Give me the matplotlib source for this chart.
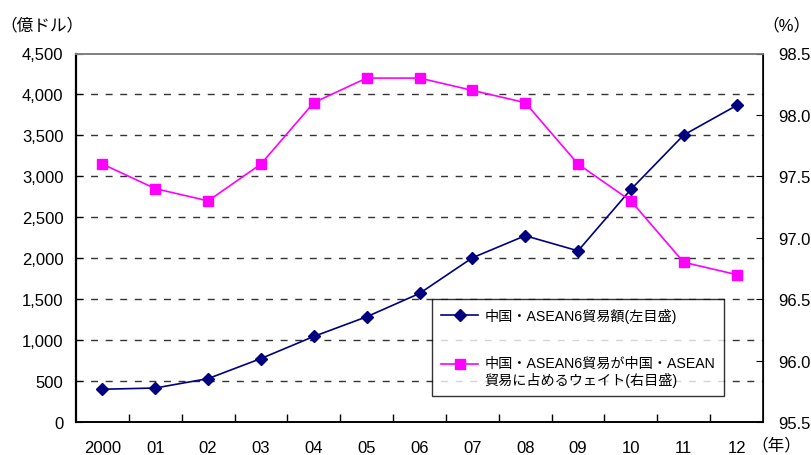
import matplotlib
matplotlib.use('Agg')
import matplotlib.pyplot as plt
import numpy as np
from matplotlib.legend_handler import HandlerLine2D
from matplotlib.ticker import MultipleLocator, FuncFormatter

# China-ASEAN6 trade (100 mn USD) and its share of China-ASEAN trade (%)
years = ['2000', '01', '02', '03', '04', '05', '06', '07', '08', '09', '10', '11', '12']
trade = [400, 415, 530, 775, 1045, 1285, 1570, 2005, 2275, 2090, 2840, 3505, 3865]
share = [97.6, 97.4, 97.3, 97.6, 98.1, 98.3, 98.3, 98.2, 98.1, 97.6, 97.3, 96.8, 96.7]

label_trade = '中国・ASEAN6貿易額(左目盛)'
label_share = '中国・ASEAN6貿易が中国・ASEAN\n貿易に占めるウェイト(右目盛)'

plt.rcParams['font.family'] = ['Liberation Sans', 'Noto Sans CJK JP']


class TopLineHandler(HandlerLine2D):
    # put the handle next to the first line of a two-line label
    def __init__(self, shift=0, **kw):
        super().__init__(**kw)
        self.shift = shift

    def create_artists(self, legend, orig_handle, xdescent, ydescent,
                       width, height, fontsize, trans):
        return super().create_artists(legend, orig_handle, xdescent,
                                      ydescent - 2 * self.shift * fontsize,
                                      width, height, fontsize, trans)


fig = plt.figure(figsize=(8.11, 4.56), dpi=100)
ax = fig.add_axes([76 / 811, 1 - 423 / 456, 687 / 811, 368.5 / 456])
ax2 = ax.twinx()

x = np.arange(len(years))
l1, = ax.plot(x, trade, color='#000080', marker='D', ms=6, lw=1.2, label=label_trade, zorder=4)
l2, = ax2.plot(x, share, color='#FF00FF', marker='s', ms=6.5, lw=1.2, label=label_share, zorder=4)

ax.set_xlim(-0.5, len(years) - 0.5)
ax.set_ylim(0, 4500)
ax2.set_ylim(95.5, 98.5)

# dashed grid on the inner left-axis steps
ax.hlines(np.arange(500, 4500, 500), -0.5, len(years) - 0.5, colors='#333333',
          linestyles=(0, (5, 5.5)), lw=1.0, zorder=1)

ax.yaxis.set_major_locator(MultipleLocator(500))
ax.yaxis.set_major_formatter(FuncFormatter(lambda v, p: f'{v:,.0f}'))
ax2.yaxis.set_major_locator(MultipleLocator(0.5))
ax2.yaxis.set_major_formatter(FuncFormatter(lambda v, p: f'{v:.1f}'))

ax.set_xticks(x)
ax.set_xticklabels(years)
ax.set_xticks(x[:-1] + 0.5, minor=True)
ax.tick_params(axis='x', which='major', length=0, labelsize=12, pad=13)
ax.tick_params(axis='x', which='minor', direction='in', length=6, width=1, color='black')
ax.tick_params(axis='y', direction='in', length=5, labelsize=12, pad=9)
ax2.tick_params(axis='y', direction='in', length=5, labelsize=12, pad=11)

for a in (ax, ax2):
    a.spines['top'].set_color('#808080')
    a.spines['top'].set_linewidth(1.2)
ax.spines['left'].set_linewidth(1.6)
ax.spines['bottom'].set_linewidth(1.4)
ax2.spines['right'].set_linewidth(1.2)
ax2.spines['left'].set_visible(False)
ax2.spines['bottom'].set_visible(False)

fig.text(42 / 811, 1 - 25 / 456, '（億ドル）', ha='center', va='center', fontsize=12)
fig.text(786 / 811, 1 - 25 / 456, '（%）', ha='center', va='center', fontsize=12)
fig.text(776 / 811, 1 - 445 / 456, '（年）', ha='center', va='center', fontsize=12)

leg = ax2.legend([l1, l2], [label_trade, label_share], loc='upper left',
                 bbox_to_anchor=((432 - 76) / 687, (423 - 300) / 368.5),
                 borderaxespad=0, frameon=True, fancybox=False, fontsize=10.2,
                 handlelength=2.6, handletextpad=0.45, labelspacing=2.3,
                 borderpad=0.65, handler_map={l2: TopLineHandler(shift=0.6)})
leg.get_frame().set_edgecolor('black')
leg.get_frame().set_linewidth(1.0)
leg.set_zorder(10)

fig.savefig('out.png', dpi=100)
